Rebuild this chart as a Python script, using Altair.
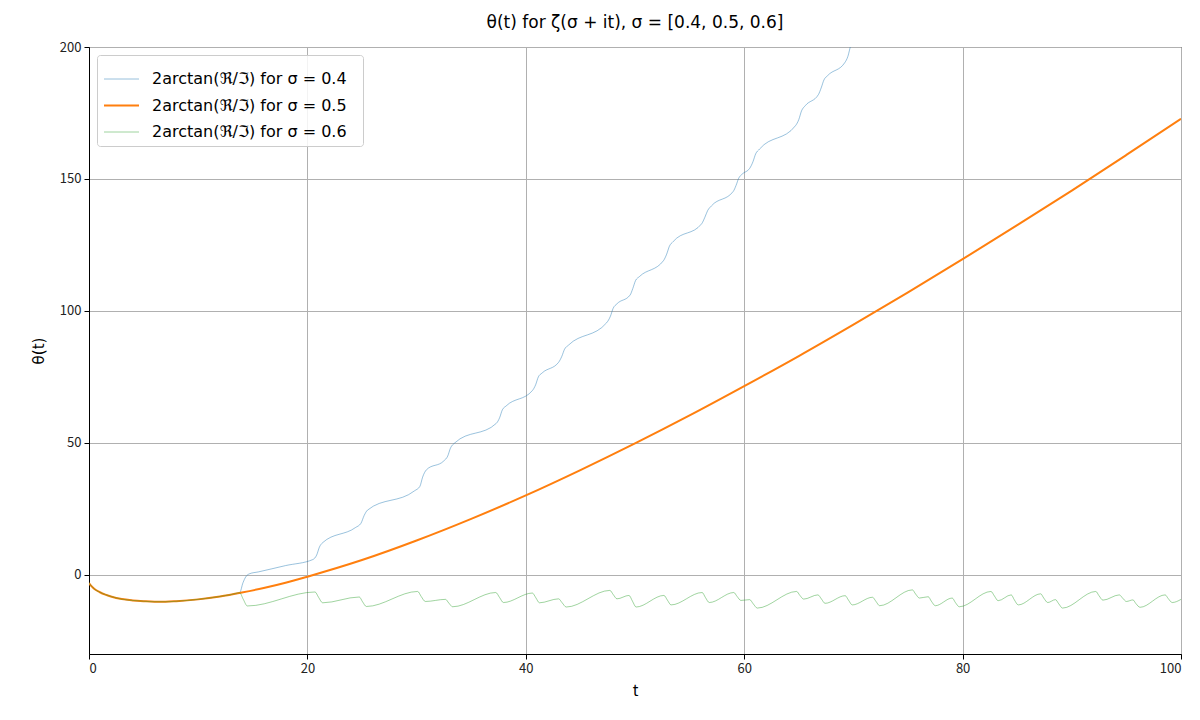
import altair as alt
import pandas as pd

# ---- data ----
labels = [
    "2arctan(ℜ/ℑ)  for  σ = 0.4",
    "2arctan(ℜ/ℑ)  for  σ = 0.5",
    "2arctan(ℜ/ℑ)  for  σ = 0.6",
]
colors = ["#1f77b4", "#ff7f0e", "#2ca02c"]
widths = [1.0, 2.0, 1.0]
alphas = [0.45, 1.0, 0.45]

t_orange = [0, 0.25, 0.5, 1, 1.5, 2, 3, 4, 5, 6, 7, 8, 10, 12, 14, 16, 18, 20,
            25, 30, 35, 40, 45, 50, 55, 60, 65, 70, 75, 80, 85, 90, 95, 100]
v_orange = [-3.1, -4.4, -5.4, -6.6, -7.5, -8.2, -9.2, -9.7, -10.0, -10.2, -10.2,
            -10.0, -9.3, -8.2, -6.7, -5.0, -3.0, -0.7, 5.6, 13.0, 21.2, 30.1,
            39.7, 49.8, 60.4, 71.5, 82.9, 94.8, 107.0, 119.6, 132.5, 145.6,
            159.1, 172.8]

t_blue = [0, 0.25, 0.5, 1, 1.5, 2, 3, 4, 5, 6, 7, 8, 10, 12, 13.0, 13.8,
          14.1, 14.35, 14.7, 15.5, 18, 20.5, 20.85, 21.1, 21.4, 24.4, 24.9,
          25.2, 25.5, 29.8, 30.3, 30.55, 30.9, 32.5, 32.85, 33.1, 33.5, 37.3,
          37.6, 37.85, 38.2, 40.6, 40.9, 41.15, 41.5, 43.0, 43.3, 43.55, 43.9,
          47.4, 47.75, 48.0, 48.35, 49.55, 49.8, 50.05, 50.4, 52.6, 52.9,
          53.15, 53.5, 56.1, 56.4, 56.65, 57.0, 59.0, 59.25, 59.5, 59.8, 60.5,
          60.8, 61.05, 61.4, 64.7, 65.0, 65.25, 65.6, 66.8, 67.05, 67.3, 67.65,
          69.2, 69.5, 69.75, 70.1]
v_blue = [-3.1, -4.4, -5.4, -6.6, -7.5, -8.2, -9.2, -9.7, -10.0, -10.2, -10.2,
          -10.0, -9.3, -8.2, -7.5, -6.8, -3.0, -0.8, 0.4, 1.1, 3.5, 5.8, 7.5,
          10.5, 12.2, 17.9, 19.5, 22.5, 24.5, 31.8, 33.5, 37.0, 39.8, 43.2,
          45.0, 48.0, 50.0, 57.4, 59.5, 62.5, 64.0, 69.8, 72.0, 75.0, 76.5,
          80.5, 82.8, 85.5, 87.0, 95.5, 98.0, 101.0, 102.7, 106.0, 108.5,
          111.5, 113.0, 119.0, 121.5, 124.5, 126.3, 133.0, 135.5, 138.0, 139.8,
          145.3, 147.5, 150.3, 151.8, 154.0, 156.5, 159.5, 161.3, 170.2, 172.5,
          175.8, 177.8, 182.0, 184.5, 187.5, 189.2, 194.0, 196.5, 200.5, 203.0]

t_green = [0, 0.25, 0.5, 1, 1.5, 2, 3, 4, 5, 6, 7, 8, 10, 12, 13.0, 13.8,
           14.13, 14.5, 20.7, 21.02, 21.4, 24.75, 25.05, 25.4, 30.1, 30.42,
           30.8, 32.65, 32.95, 33.3, 37.25, 37.6, 37.95, 40.6, 40.92, 41.25,
           43.0, 43.33, 43.7, 47.7, 48.01, 48.35, 49.45, 49.77, 50.1, 52.65,
           52.97, 53.3, 56.15, 56.45, 56.8, 59.05, 59.35, 59.7, 60.5, 60.83,
           61.2, 64.8, 65.1, 65.45, 66.75, 67.08, 67.4, 69.25, 69.55, 69.9,
           71.75, 72.07, 72.4, 75.4, 75.7, 76.05, 76.85, 77.14, 77.5, 79.05,
           79.34, 79.7, 82.6, 82.91, 83.25, 84.45, 84.74, 85.1, 87.15, 87.43,
           87.8, 88.5, 88.81, 89.15, 92.2, 92.49, 92.85, 94.35, 94.65, 95.0,
           95.6, 95.87, 96.25, 98.55, 98.83, 99.2, 100]
v_green = [-3.1, -4.4, -5.4, -6.6, -7.5, -8.2, -9.2, -9.7, -10.0, -10.2, -10.2,
           -10.0, -9.3, -8.2, -7.5, -6.8, -9.3, -11.8, -6.5, -8.5, -10.6, -8.4,
           -10.2, -12.0, -6.3, -8.2, -10.1, -9.3, -10.7, -12.1, -6.7, -8.6,
           -10.5, -6.9, -8.7, -10.6, -9.1, -10.6, -12.2, -5.9, -7.5, -9.1,
           -7.8, -10.0, -12.2, -7.8, -9.6, -11.4, -6.7, -8.6, -10.5, -6.7,
           -8.2, -9.7, -9.4, -11.0, -12.6, -6.3, -7.8, -9.2, -7.6, -9.2, -10.8,
           -7.9, -9.6, -11.4, -8.5, -10.1, -11.7, -5.7, -7.3, -8.8, -8.3,
           -10.0, -11.7, -8.8, -10.5, -12.1, -6.3, -8.0, -9.8, -7.6, -9.5,
           -11.4, -7.2, -8.8, -10.5, -9.4, -11.0, -12.6, -6.3, -7.9, -9.6,
           -7.6, -8.8, -10.1, -9.5, -10.9, -12.3, -7.6, -9.0, -10.5, -9.3]

x_ticks = [0, 20, 40, 60, 80, 100]
y_ticks = [0, 50, 100, 150, 200]

# ---- build table ----
frames = []
for lab, ts, vs in [(labels[0], t_blue, v_blue),
                    (labels[1], t_orange, v_orange),
                    (labels[2], t_green, v_green)]:
    frames.append(pd.DataFrame({"t": ts, "theta": vs, "series": lab}))
df = pd.concat(frames, ignore_index=True)

legend = alt.Legend(
    title=None, orient="none", legendX=8, legendY=8,
    fillColor="rgba(255,255,255,0.85)", strokeColor="#cccccc", cornerRadius=3,
    padding=6, labelFont="DejaVu Sans", labelFontSize=16, labelColor="#000000",
    symbolType="stroke", symbolSize=1225, rowPadding=-14, labelOffset=12,
    labelLimit=0,
)

chart = alt.Chart(df).mark_line(clip=True, interpolate="monotone").encode(
    x=alt.X("t:Q", scale=alt.Scale(domain=[0, 100], nice=False),
            axis=alt.Axis(values=x_ticks, title="t", format="d")),
    y=alt.Y("theta:Q", scale=alt.Scale(domain=[-30, 200], nice=False, zero=False),
            axis=alt.Axis(values=y_ticks, title="θ(t)", format="d")),
    color=alt.Color("series:N", scale=alt.Scale(domain=labels, range=colors), legend=legend),
    strokeWidth=alt.StrokeWidth("series:N", scale=alt.Scale(type="ordinal", domain=labels, range=widths), legend=legend),
    opacity=alt.Opacity("series:N", scale=alt.Scale(type="ordinal", domain=labels, range=alphas), legend=legend),
).properties(
    width=1092, height=607,
    title=alt.Title("θ(t)  for  ζ(σ + it), σ = [0.4, 0.5, 0.6]", fontSize=17,
                    font="DejaVu Sans", fontWeight="normal", offset=9, color="#000"),
    autosize=alt.AutoSizeParams(type="none"),
    padding={"left": 81, "top": 39, "right": 11, "bottom": 58},
).configure_view(
    stroke="#000000", strokeWidth=1
).configure_axis(
    grid=True, gridColor="#b0b0b0", gridWidth=1, domainColor="#000000",
    tickColor="#000000", tickSize=5, labelFont="Noto Sans CJK JP", labelFontSize=13,
    labelColor="#222222", titleFont="DejaVu Sans", titleFontSize=15,
    titleFontWeight="normal", titleColor="#000000", labelPadding=3,
).configure_axisY(titlePadding=13).configure_axisX(titlePadding=8, titleFont="Noto Sans CJK JP")

chart.save("out.html", embed_options={"renderer": "svg", "actions": False})
